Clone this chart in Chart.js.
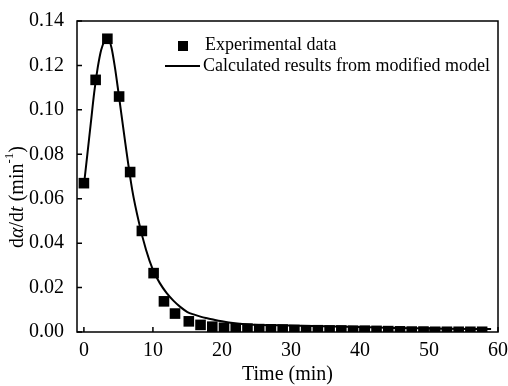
<!DOCTYPE html>
<html>
<head>
<meta charset="utf-8">
<script src="https://cdn.jsdelivr.net/npm/chart.js@4"></script>
<style>
  body { margin: 0; background: #fff; }
  #wrap { width: 508px; height: 386px; }
</style>
</head>
<body>
<div id="wrap"><canvas id="myChart" width="508" height="386"></canvas></div>
<script>
// experimental points (time in min, rate in 1/min)
const timeExp = [0, 1.7, 3.4, 5.1, 6.7, 8.4, 10.1, 11.6, 13.2, 15.2, 16.9, 18.6, 20.3, 22.0, 23.7, 25.4,
  27.1, 28.8, 30.5, 32.2, 33.9, 35.6, 37.3, 39.0, 40.7, 42.4, 44.1, 45.8, 47.5, 49.2, 50.9, 52.6, 54.3, 56.0, 57.7];
const rateExp = [0.067, 0.1135, 0.132, 0.106, 0.072, 0.0455, 0.0265, 0.0138, 0.0083, 0.0048, 0.0032, 0.0024,
  0.0019, 0.0017, 0.0015, 0.0013, 0.0012, 0.0011, 0.0009, 0.0008, 0.0008, 0.0007, 0.0007, 0.0006, 0.0006,
  0.0005, 0.0004, 0.0003, 0.0002, 0.0002, 0.0001, 0.0001, 0.0001, 0.0001, 0.0001];

// model curve
const timeModel = [0, 0.5, 1, 1.5, 2, 2.5, 3, 3.5, 4, 4.5, 5, 6, 7, 8, 9, 10, 11, 12, 13, 14, 15, 16, 17, 18,
  19, 20, 21, 24, 28, 33, 38, 45, 52, 59];
const rateModel = [0.066, 0.080, 0.094, 0.108, 0.119, 0.127, 0.131, 0.132, 0.128, 0.119, 0.108, 0.085, 0.064,
  0.049, 0.037, 0.028, 0.022, 0.0175, 0.0140, 0.0112, 0.0090, 0.0078, 0.0068, 0.0061, 0.0054, 0.0048, 0.0043,
  0.0034, 0.0030, 0.0027, 0.0024, 0.0018, 0.0015, 0.0013];

const xTicks = [0, 10, 20, 30, 40, 50, 60];
const yTicks = [0, 0.02, 0.04, 0.06, 0.08, 0.10, 0.12, 0.14];
const legendLabels = ['Experimental data', 'Calculated results from modified model'];

const serif = 'Liberation Serif';

// frame, inward ticks, legend and y title
const extras = {
  id: 'extras',
  afterDraw(chart) {
    const ctx = chart.ctx;
    const a = chart.chartArea;
    const xs = chart.scales.x, ys = chart.scales.y;
    ctx.save();
    ctx.strokeStyle = '#000';
    ctx.lineWidth = 1.5;
    ctx.strokeRect(a.left, a.top, a.right - a.left, a.bottom - a.top);
    ctx.beginPath();
    xTicks.forEach(v => {
      const px = xs.getPixelForValue(v);
      ctx.moveTo(px, a.bottom);
      ctx.lineTo(px, a.bottom - 5);
    });
    yTicks.forEach(v => {
      const py = ys.getPixelForValue(v);
      ctx.moveTo(a.left, py);
      ctx.lineTo(a.left + 5, py);
    });
    ctx.stroke();

    // legend
    ctx.fillStyle = '#000';
    ctx.fillRect(178, 41, 10, 10);
    ctx.lineWidth = 2;
    ctx.beginPath();
    ctx.moveTo(165, 66);
    ctx.lineTo(200, 66);
    ctx.stroke();
    ctx.font = '18px "' + serif + '"';
    ctx.textBaseline = 'middle';
    ctx.fillText(legendLabels[0], 205, 45);
    ctx.fillText(legendLabels[1], 203, 66);

    // y title: d(alpha)/dt (min^-1)
    const parts = [
      ['d', '', 20, 0], ['\u03b1', 'italic ', 20, 0], ['/d', '', 20, 0], ['t', 'italic ', 20, 0],
      [' (min', '', 20, 0], ['-1', '', 13, -8], [')', '', 20, 0]
    ];
    let total = 0;
    parts.forEach(p => { ctx.font = p[1] + p[2] + 'px "' + serif + '"'; total += ctx.measureText(p[0]).width; });
    ctx.translate(18, 197);
    ctx.rotate(-Math.PI / 2);
    ctx.textBaseline = 'middle';
    let x = -total / 2;
    parts.forEach(p => {
      ctx.font = p[1] + p[2] + 'px "' + serif + '"';
      ctx.fillText(p[0], x, p[3]);
      x += ctx.measureText(p[0]).width;
    });
    ctx.restore();
  }
};

new Chart('myChart', {
  type: 'scatter',
  data: {
    datasets: [{
      label: legendLabels[0],
      data: timeExp.map((t, i) => ({ x: t, y: rateExp[i] })),
      pointStyle: 'rect',
      pointRadius: 7.5,
      backgroundColor: '#000',
      borderColor: '#000',
      borderWidth: 0
    }, {
      label: legendLabels[1],
      data: timeModel.map((t, i) => ({ x: t, y: rateModel[i] })),
      showLine: true,
      pointRadius: 0,
      borderColor: '#000',
      borderWidth: 2,
      cubicInterpolationMode: 'monotone'
    }]
  },
  options: {
    responsive: false,
    animation: false,
    layout: { padding: { top: 21, right: 10, left: 0, bottom: 0 } },
    plugins: { legend: { display: false }, tooltip: { enabled: false } },
    scales: {
      x: {
        type: 'linear',
        min: -1,
        max: 60,
        afterBuildTicks: s => { s.ticks = xTicks.map(v => ({ value: v })); },
        afterFit: s => { s.height = 54; },
        grid: { display: false },
        border: { display: false },
        ticks: { color: '#000', padding: -1, maxRotation: 0, font: { family: serif, size: 20 } },
        title: { display: true, text: 'Time (min)', color: '#000', padding: { top: 0, bottom: -1 },
          font: { family: serif, size: 20 } }
      },
      y: {
        min: 0,
        max: 0.14,
        afterBuildTicks: s => { s.ticks = yTicks.map(v => ({ value: v })); },
        afterFit: s => { s.width = 77; },
        grid: { display: false },
        border: { display: false },
        ticks: { color: '#000', padding: 5, callback: v => v.toFixed(2), font: { family: serif, size: 20 } }
      }
    }
  },
  plugins: [extras]
});
</script>
</body>
</html>
